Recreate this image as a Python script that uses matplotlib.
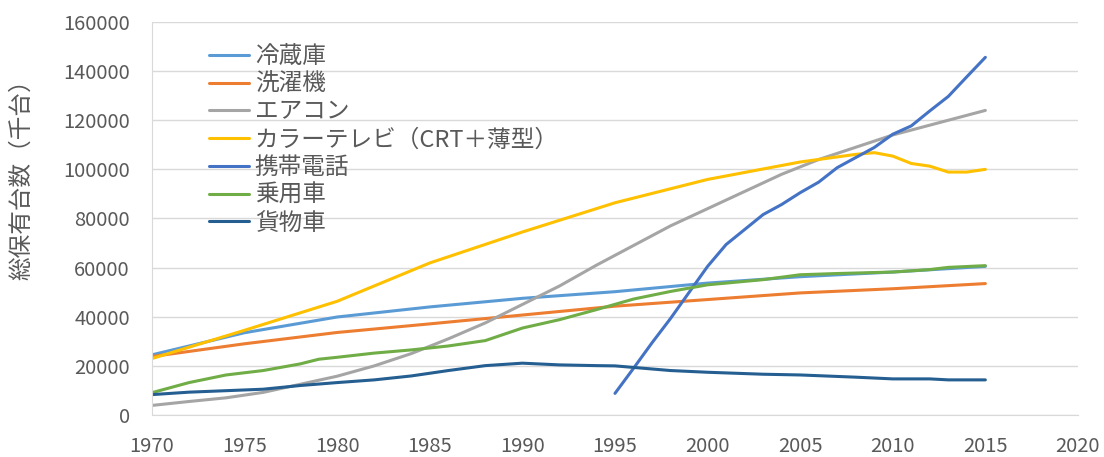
import matplotlib
matplotlib.use("Agg")
import matplotlib.pyplot as plt

plt.rcParams['font.family'] = ['Noto Sans CJK JP', 'DejaVu Sans']

# ---- data (thousand units) ----
fridge_years = [1970, 1975, 1980, 1985, 1990, 1995, 2000, 2005, 2010, 2015]
fridge = [24500, 33500, 39900, 44000, 47500, 50200, 53700, 56300, 58200, 60500]

washer_years = [1970, 1975, 1980, 1985, 1990, 1995, 2000, 2005, 2010, 2015]
washer = [23800, 29000, 33600, 37100, 40700, 44300, 47000, 49700, 51400, 53500]

aircon_years = [1970, 1972, 1974, 1976, 1978, 1980, 1982, 1984, 1986, 1988, 1990, 1992,
                1994, 1996, 1998, 2000, 2002, 2004, 2006, 2008, 2010, 2012, 2014, 2015]
aircon = [3900, 5500, 7000, 9200, 12500, 15800, 20000, 25000, 31000, 37500, 45000, 52500,
          61000, 69000, 77000, 84000, 91000, 98000, 104000, 109000, 114000, 118000, 122000, 124000]

tv_years = [1970, 1975, 1980, 1985, 1990, 1995, 2000, 2005, 2008, 2009, 2010, 2011, 2012, 2013, 2014, 2015]
tv = [23000, 34500, 46300, 61900, 74500, 86400, 95900, 103000, 106100, 106800, 105400,
      102400, 101300, 98900, 98900, 100000]

phone_years = [1995, 1996, 1997, 1998, 1999, 2000, 2001, 2002, 2003, 2004, 2005, 2006,
               2007, 2008, 2009, 2010, 2011, 2012, 2013, 2014, 2015]
phone = [8800, 19000, 29400, 39300, 49900, 60500, 69400, 75500, 81600, 85700, 90500, 94800,
         100700, 104800, 108900, 114300, 117700, 123800, 129700, 137700, 145600]

car_years = [1970, 1972, 1974, 1976, 1978, 1979, 1980, 1982, 1984, 1986, 1988, 1990, 1992,
             1994, 1996, 1998, 2000, 2003, 2005, 2007, 2010, 2012, 2013, 2015]
car = [9100, 13200, 16300, 18100, 20800, 22700, 23500, 25200, 26500, 28100, 30300, 35400, 38800,
       42900, 47200, 50300, 53000, 55100, 57100, 57600, 58200, 59200, 60100, 60800]

truck_years = [1970, 1972, 1974, 1976, 1978, 1980, 1982, 1984, 1986, 1988, 1990, 1992, 1994,
               1995, 1998, 2000, 2003, 2005, 2008, 2010, 2012, 2013, 2015]
truck = [8300, 9300, 9900, 10500, 12000, 13200, 14300, 15900, 18100, 20100, 21100, 20400, 20100,
         20000, 18100, 17400, 16600, 16300, 15400, 14700, 14700, 14300, 14300]

labels = ['冷蔵庫', '洗濯機', 'エアコン', 'カラーテレビ（CRT＋薄型）', '携帯電話', '乗用車', '貨物車']
colors = ['#5B9BD5', '#ED7D31', '#A5A5A5', '#FFC000', '#4472C4', '#70AD47', '#255E91']
series = [(fridge_years, fridge), (washer_years, washer), (aircon_years, aircon), (tv_years, tv),
          (phone_years, phone), (car_years, car), (truck_years, truck)]

x_ticks = [1970, 1975, 1980, 1985, 1990, 1995, 2000, 2005, 2010, 2015, 2020]
y_ticks = [0, 20000, 40000, 60000, 80000, 100000, 120000, 140000, 160000]

fig = plt.figure(figsize=(11.04, 4.57), dpi=100)
ax = fig.add_axes([0.1377, 0.0919, 0.8387, 0.86])

for (xs, ys), lab, c in zip(series, labels, colors):
    ax.plot(xs, ys, color=c, lw=2.2, label=lab, solid_capstyle='round')

ax.set_xlim(1970, 2020)
ax.set_ylim(0, 160000)
ax.set_xticks(x_ticks)
ax.set_yticks(y_ticks)
ax.grid(axis='y', color='#D9D9D9', lw=1)
ax.set_axisbelow(True)
for s in ['top', 'right']:
    ax.spines[s].set_visible(False)
for s in ['left', 'bottom']:
    ax.spines[s].set_color('#D9D9D9')
ax.tick_params(length=0, labelsize=14.5, colors='#595959')
ax.tick_params(axis='y', pad=16)
ax.tick_params(axis='x', pad=15)
ax.set_ylabel('総保有台数（千台）', fontsize=17, color='#595959')
ax.yaxis.set_label_coords(-0.1285, 0.615)

leg = ax.legend(loc='upper left', bbox_to_anchor=(0.051, 0.965), frameon=False,
                fontsize=17, labelcolor='#595959', handlelength=1.7, handletextpad=0.25,
                labelspacing=0.2, borderaxespad=0)

fig.savefig('out.png', dpi=100)
